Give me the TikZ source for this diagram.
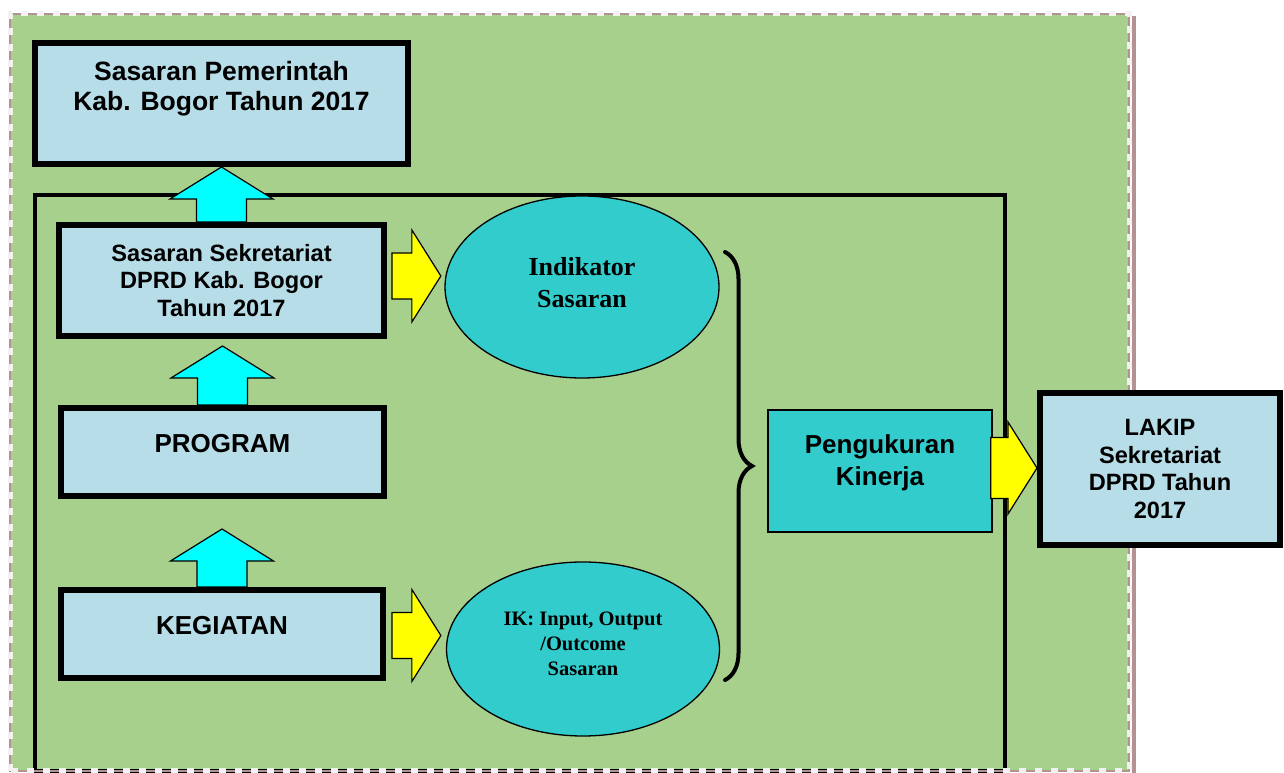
\documentclass[tikz,border=0pt]{standalone}
\usepackage{fontspec}
\setmainfont{Liberation Sans}
\newfontfamily\timesfont{Liberation Serif}
\usetikzlibrary{positioning,calc,shapes.geometric,decorations.pathreplacing}

\definecolor{bggreen}{RGB}{168,208,141}
\definecolor{boxblue}{RGB}{183,221,232}
\definecolor{tosca}{RGB}{51,204,204}
\definecolor{aqua}{RGB}{0,255,255}
\definecolor{kuning}{RGB}{255,255,0}
\definecolor{framebrown}{RGB}{178,146,146}
\definecolor{dashwhite}{RGB}{242,242,242}

\tikzset{
	bluebox/.style={draw, line width=6pt, fill=boxblue, inner sep=0pt},
	toscabox/.style={draw, line width=1.5pt, fill=tosca, inner sep=0pt},
	oval/.style={ellipse, draw, line width=1.3pt, fill=tosca, inner sep=0pt, align=center},
	boxtext/.style={inner sep=0pt, align=center, font=\bfseries\fontsize{26}{31}\selectfont},
	smalltext/.style={inner sep=0pt, align=center, font=\bfseries\fontsize{23.6}{27.5}\selectfont},
	upblock/.style={draw, line width=1.2pt, fill=aqua},
	rightblock/.style={draw, line width=1.2pt, fill=kuning}
}

% block arrow pointing up: #1 tail, #2 tip
\newcommand{\uparr}[2]{%
	\draw[upblock] let \p1=(#1), \p2=(#2) in
	(\x1-25pt,\y1) -- (\x1-25pt,\y2-32pt) -- (\x1-51.5pt,\y2-32pt) -- (\x1,\y2)
	-- (\x1+51.5pt,\y2-32pt) -- (\x1+25pt,\y2-32pt) -- (\x1+25pt,\y1) -- cycle;}
% block arrow pointing right: #1 tail, #2 tip, #3 half shaft
\newcommand{\rightarr}[3]{%
	\draw[rightblock] let \p1=(#1), \p2=(#2) in
	(\x1,\y1+#3) -- (\x2-29pt,\y1+#3) -- (\x2-29pt,\y1+46pt) -- (\x2,\y1)
	-- (\x2-29pt,\y1-46pt) -- (\x2-29pt,\y1-#3) -- (\x1,\y1-#3) -- cycle;}

\begin{document}
\begin{tikzpicture}[x=1pt,y=1pt]
	\useasboundingbox (0,0) rectangle (1284,773);
	% background
	\fill[bggreen] (10,2) rectangle (1129,759);
	\draw[line width=3.5pt] (35,2) rectangle (1005,578);
	\draw[framebrown, line width=1.2pt] (10,2) rectangle (1129,759);
	\draw[framebrown, line width=4pt] (1133.5,757) -- (1133.5,0);
	\draw[dashwhite, line width=5pt, dash pattern=on 7pt off 9pt] (10,2) rectangle (1129,759);

	% boxes
	\node[bluebox, minimum width=373pt, minimum height=121pt] (pemda) at (221.5,669.5) {};
	\node[boxtext, font=\bfseries\fontsize{26.5}{30}\selectfont] (pemdatxt) at ([yshift=14.5pt]pemda.center) {Sasaran Pemerintah\\Kab. Bogor Tahun 2017};
	\node[bluebox, smalltext, minimum width=325pt, minimum height=111pt] (sek) at (221.5,492.5) {Sasaran Sekretariat\\DPRD Kab. Bogor\\Tahun 2017};
	\node[bluebox, minimum width=323pt, minimum height=88pt] (prog) at (222.5,321) {};
	\node[boxtext] (progtxt) at ([yshift=8pt]prog.center) {PROGRAM};
	\node[bluebox, minimum width=322pt, minimum height=88pt] (keg) at (222,139) {};
	\node[boxtext] (kegtxt) at ([yshift=8pt]keg.center) {KEGIATAN};

	\node[oval, minimum width=274pt, minimum height=182pt] (ind) at (582,486) {};
	\node[inner sep=0pt, align=center, font=\timesfont\bfseries\fontsize{26}{32}\selectfont] (indtxt) at ([yshift=4pt]ind.center) {Indikator\\Sasaran};
	\node[oval, minimum width=273pt, minimum height=174pt] (ik) at (583,124) {};
	\node[inner sep=0pt, align=center, font=\timesfont\bfseries\fontsize{20.5}{24.7}\selectfont] (iktxt) at ([yshift=5pt]ik.center) {IK: Input, Output\\/Outcome\\Sasaran};

	\node[toscabox, minimum width=224pt, minimum height=122pt] (ukur) at (880,302) {};
	\node[boxtext, font=\bfseries\fontsize{26}{32}\selectfont] (ukurtxt) at ([yshift=8pt]ukur.center) {Pengukuran\\Kinerja};
	\node[bluebox, smalltext, minimum width=240pt, minimum height=151.5pt] (lakip) at (1160,304) {LAKIP\\Sekretariat\\DPRD Tahun\\2017};

	% arrows
	\uparr{sek.north}{pemda.south}
	\uparr{prog.north}{[yshift=-7pt]sek.south}
	\uparr{keg.north}{[yshift=-30pt]prog.south}
	\rightarr{[shift={(5pt,4.5pt)}]sek.east}{[xshift=-3.5pt]ind.west}{23pt}
	\rightarr{[shift={(6pt,-1.5pt)}]keg.east}{[xshift=-5pt]ik.west}{23pt}
	\rightarr{[shift={(-2pt,3pt)}]ukur.east}{lakip.west}{30.5pt}

	% brace
	\draw[line width=4pt, line cap=round, decorate, decoration={brace, amplitude=27pt}] (725,521) -- (725,93);
\end{tikzpicture}
\end{document}
